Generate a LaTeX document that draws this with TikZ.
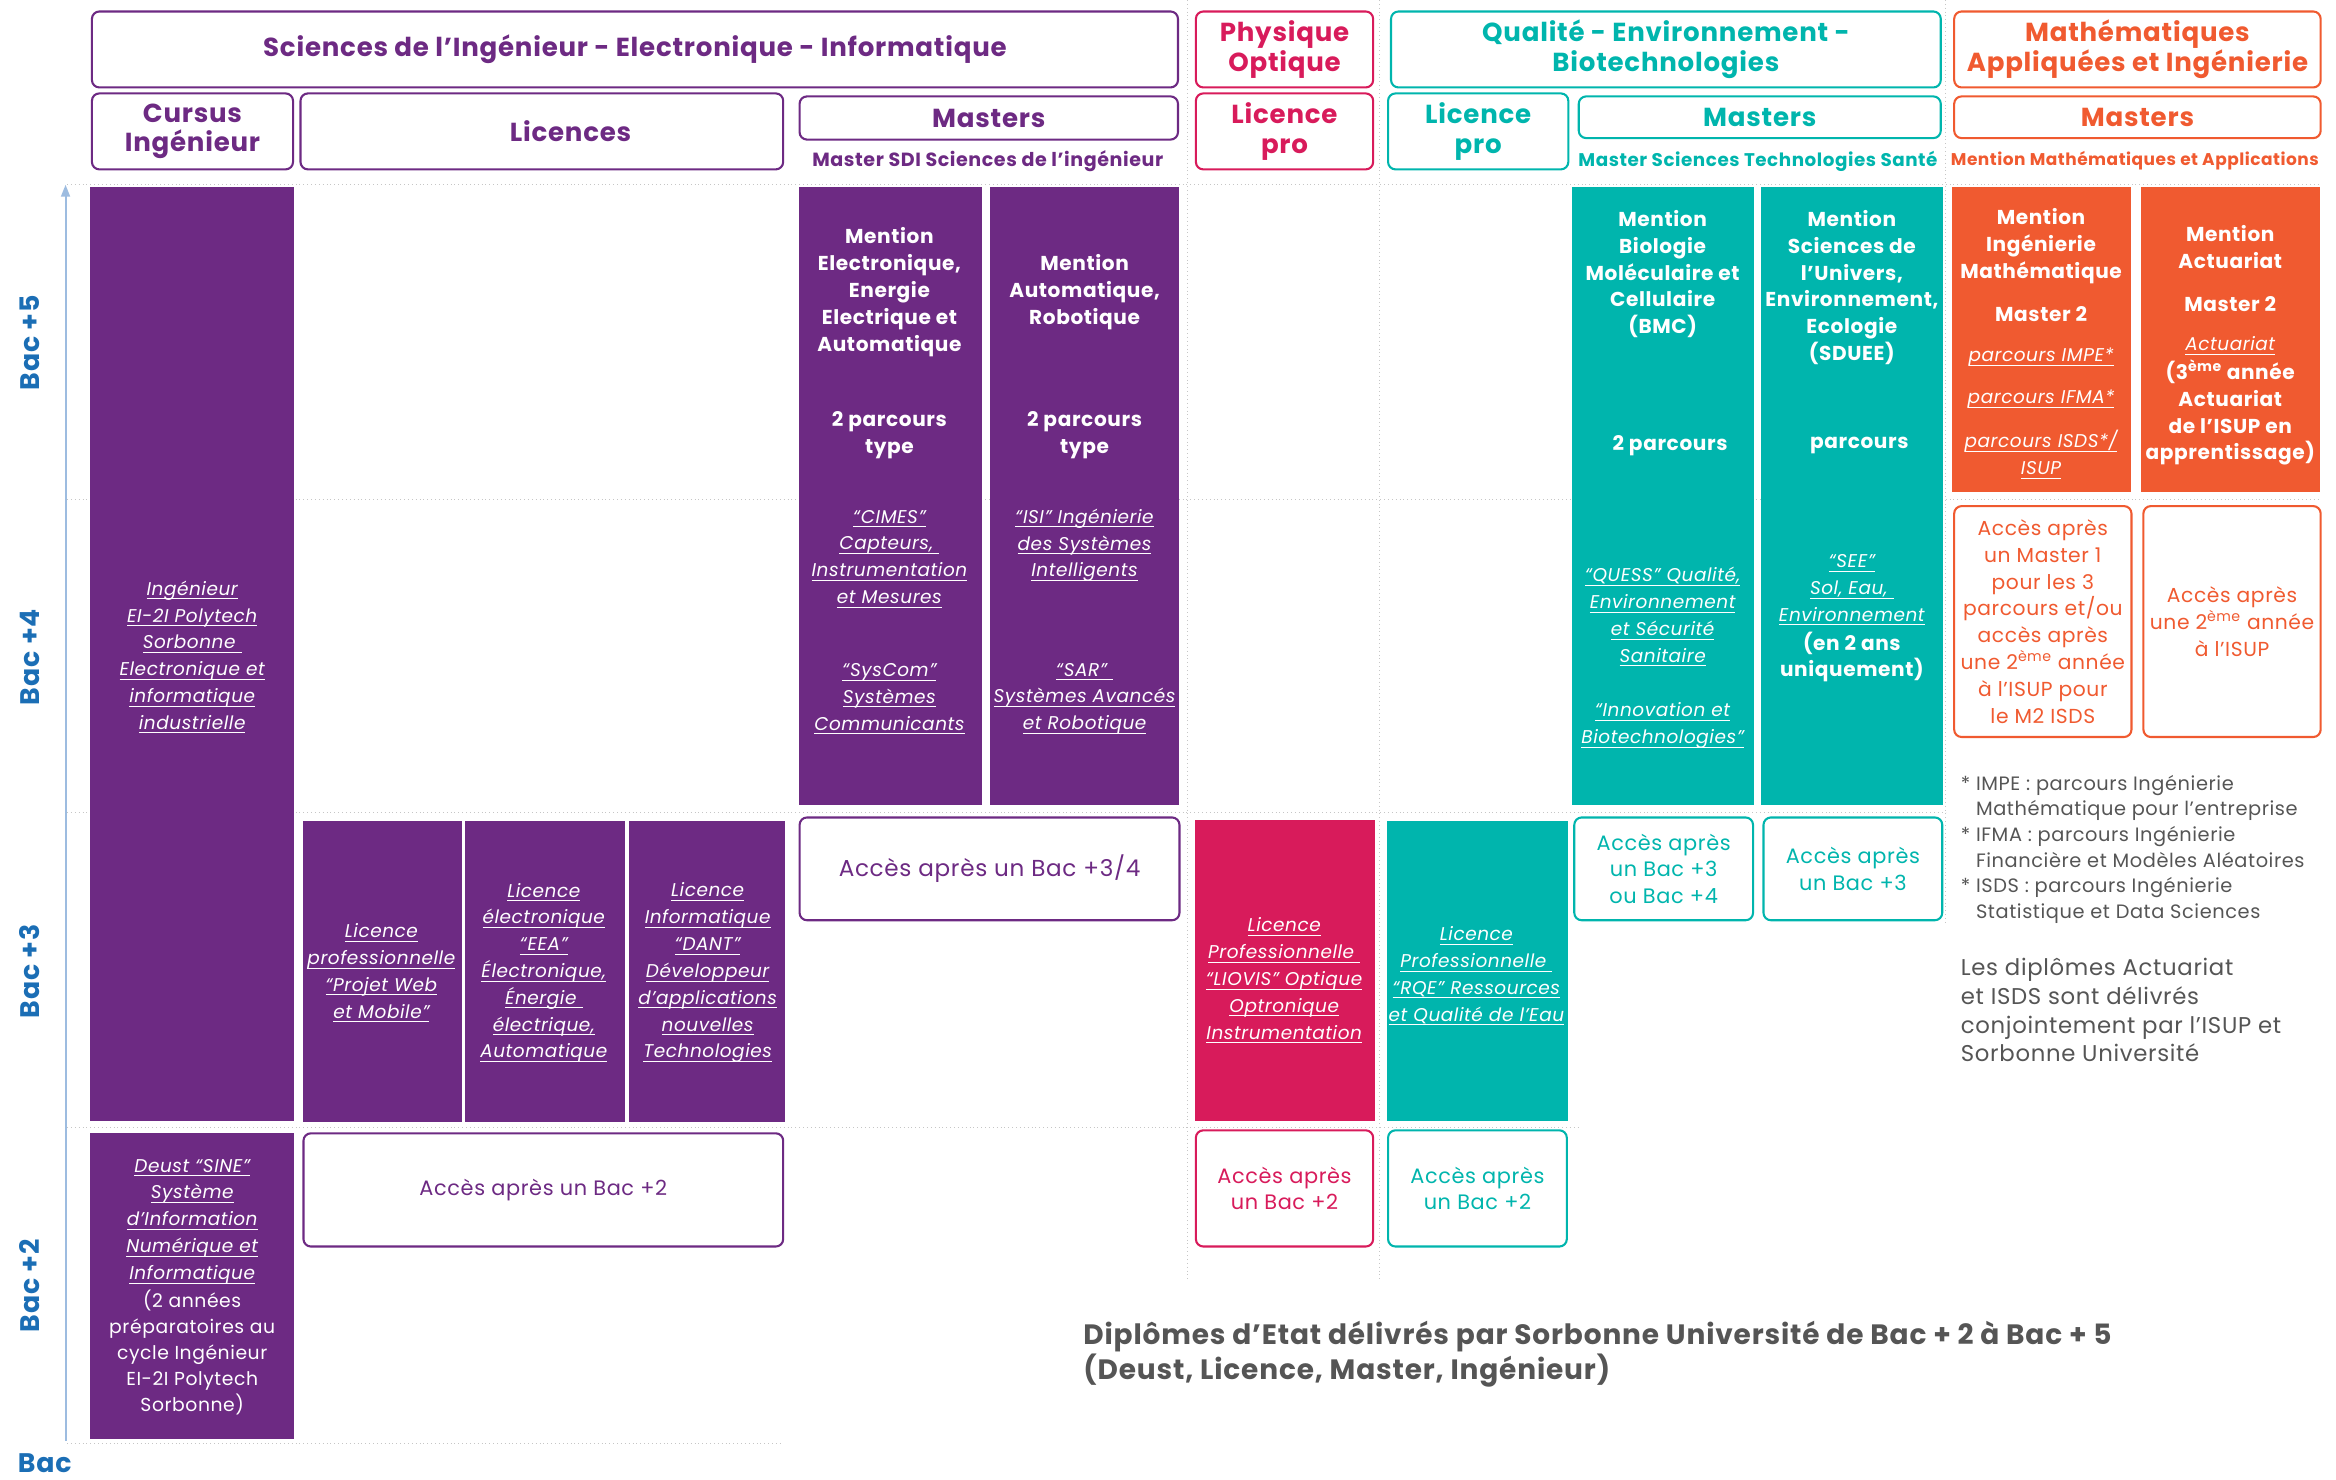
\documentclass[tikz,border=0pt]{standalone}
\usepackage{fontspec}
\setmainfont{Poppins}[LetterSpace=3]
\usetikzlibrary{arrows.meta}

\definecolor{purp}{HTML}{6D2A83}
\definecolor{crim}{HTML}{D81B5B}
\definecolor{tealc}{HTML}{00B5AD}
\definecolor{oran}{HTML}{F05A30}
\definecolor{bacblue}{HTML}{1B6EB5}
\definecolor{arrowblue}{HTML}{9DBCE0}
\definecolor{greytxt}{HTML}{555555}

\newcommand{\txtsize}[2]{\fontsize{#1}{#2}\selectfont}
\newsavebox{\ulbox}
\newcommand{\ulk}[1]{\sbox{\ulbox}{#1}\rlap{\rule[-2.6pt]{\wd\ulbox}{0.5pt}}\usebox{\ulbox}}

\begin{document}
\begin{tikzpicture}[x=1pt,y=-1pt,
    hbox/.style={draw=#1, text=#1, line width=1.4pt, rounded corners=5pt,
      anchor=north west, inner sep=0pt, align=center,
      font=\bfseries\txtsize{17.5}{20}},
    subhd/.style={text=#1, font=\bfseries\txtsize{12.3}{14}},
    blk/.style={fill=#1, anchor=north west, inner sep=0pt},
    accbox/.style={draw=#1, text=#1, fill=white, line width=1.4pt,
      rounded corners=5pt, anchor=north west, inner sep=0pt, align=center,
      font=\txtsize{14}{18}},
    wbold/.style={text=white, align=center, inner sep=0pt,
      font=\bfseries\txtsize{13.5}{18}},
    wital/.style={text=white, align=center, inner sep=0pt,
      font=\itshape\txtsize{12.4}{18}},
    bac/.style={text=bacblue, font=\bfseries\txtsize{18}{18}},
    grid/.style={gray!45, dotted, line width=0.6pt}]
\useasboundingbox (0,0) rectangle (1568,993);

% dotted grid
\draw[grid] (45,124) -- (1557,124);
\draw[grid] (45,335) -- (1557,335);
\draw[grid] (45,545) -- (1306,545);
\draw[grid] (45,757) -- (1060,757);
\draw[grid] (45,969) -- (525,969);
\draw[grid] (797,0) -- (797,860);
\draw[grid] (926,0) -- (926,860);
\draw[grid] (1306,0) -- (1306,620);

% level axis
\coordinate (axbot) at (44,967);
\coordinate (axtop) at (44,124);
\draw[arrowblue, line width=1.3pt, -{Triangle[length=8pt,width=6pt]}] (axbot) -- (axtop);
\node[bac, rotate=90] (b5) at (20,230) {Bac +5};
\node[bac, rotate=90] (b4) at (20,441) {Bac +4};
\node[bac, rotate=90] (b3) at (20,652) {Bac +3};
\node[bac, rotate=90] (b2) at (20,863) {Bac +2};
\node[bac] (b0) at (30,982) {Bac};

% headers
\node[hbox=purp, minimum width=729, minimum height=51] (hsdi) at (61,7)
  {Sciences de l’Ingénieur - Electronique - Informatique};
\node[hbox=crim, minimum width=119, minimum height=51] (hpo) at (802,7)
  {Physique\\Optique};
\node[hbox=tealc, minimum width=369, minimum height=51] (hqeb) at (933,7)
  {Qualité - Environnement -\\Biotechnologies};
\node[hbox=oran, minimum width=246, minimum height=51] (hmai) at (1311,7)
  {Mathématiques\\Appliquées et Ingénierie};

\node[hbox=purp, minimum width=135, minimum height=51] (hcur) at (61,62)
  {Cursus\\Ingénieur};
\node[hbox=purp, minimum width=324, minimum height=51] (hlic) at (201,62) {};
\node[text=purp, font=\bfseries\txtsize{17.5}{20}] (tlic) at (383,88) {Licences};
\node[hbox=purp, minimum width=254, minimum height=29] (hmsdi) at (536,64)
  {Masters};
\node[subhd=purp, font=\bfseries\txtsize{12.8}{14}] (ssdi) at (663,108) {Master SDI Sciences de l’ingénieur};
\node[hbox=crim, minimum width=119, minimum height=51] (hlpo) at (802,62)
  {Licence\\pro};
\node[hbox=tealc, minimum width=121, minimum height=51] (hlpq) at (931,62)
  {Licence\\pro};
\node[hbox=tealc, minimum width=243, minimum height=28] (hmsts) at (1059,64)
  {Masters};
\node[subhd=tealc] (ssts) at (1180,108) {Master Sciences Technologies Santé};
\node[hbox=oran, minimum width=246, minimum height=28] (hmma) at (1311,64)
  {Masters};
\node[subhd=oran, font=\bfseries\txtsize{11.4}{14}] (sma) at (1433,108) {Mention Mathématiques et Applications};

% Sciences de l'Ingenieur
\node[blk=purp, minimum width=137, minimum height=627] (ing) at (60,125) {};
\node[wital] (ting) at (129,441) {\ulk{Ingénieur}\\\ulk{EI-2I Polytech}\\\ulk{Sorbonne }\\\ulk{Electronique et}\\\ulk{informatique}\\\ulk{industrielle}};
\node[blk=purp, minimum width=137, minimum height=206] (deust) at (60,760) {};
\node[wital] (tdeust) at (129,820) {\ulk{Deust “SINE”}\\\ulk{Système}\\\ulk{d’Information}\\\ulk{Numérique et}\\\ulk{Informatique}};
\node[wital, font=\txtsize{12.6}{17.5}] (tprep) at (129,908) {(2 années\\préparatoires au\\cycle Ingénieur\\EI-2I Polytech\\Sorbonne)};

\node[blk=purp, minimum width=107, minimum height=202] (lpw) at (203,551) {};
\node[blk=purp, minimum width=107, minimum height=202] (leea) at (312,551) {};
\node[blk=purp, minimum width=105, minimum height=202] (ldant) at (422,551) {};
\node[wital] (tlpw) at (256,653) {\ulk{Licence}\\\ulk{professionnelle}\\\ulk{“Projet Web}\\\ulk{et Mobile”}};
\node[wital] (tleea) at (365,653) {\ulk{Licence}\\\ulk{électronique}\\\ulk{“EEA”}\\\ulk{Électronique,}\\\ulk{Énergie }\\\ulk{électrique,}\\\ulk{Automatique}};
\node[wital] (tldant) at (475,653) {\ulk{Licence}\\\ulk{Informatique}\\\ulk{“DANT”}\\\ulk{Développeur}\\\ulk{d’applications}\\\ulk{nouvelles}\\\ulk{Technologies}};
\node[accbox=purp, minimum width=322, minimum height=76] (acc2) at (203,760)
  {Accès après un Bac +2};

\node[blk=purp, minimum width=123, minimum height=415] (mee) at (536,125) {};
\node[blk=purp, minimum width=127, minimum height=415] (mar) at (664,125) {};
\node[wbold] (tmee) at (597,196) {Mention\\Electronique,\\Energie\\Electrique et\\Automatique};
\node[wbold] (pmee) at (597,292) {2 parcours\\type};
\node[wital] (cimes) at (597,375) {\ulk{“CIMES”}\\\ulk{Capteurs, }\\\ulk{Instrumentation}\\\ulk{et Mesures}};
\node[wital] (syscom) at (597,469) {\ulk{“SysCom”}\\\ulk{Systèmes}\\\ulk{Communicants}};
\node[wbold] (tmar) at (728,196) {Mention\\Automatique,\\Robotique};
\node[wbold] (pmar) at (728,292) {2 parcours\\type};
\node[wital] (isi) at (728,366) {\ulk{“ISI” Ingénierie}\\\ulk{des Systèmes}\\\ulk{Intelligents}};
\node[wital] (sar) at (728,469) {\ulk{“SAR” }\\\ulk{Systèmes Avancés}\\\ulk{et Robotique}};
\node[accbox=purp, minimum width=255, minimum height=69, font=\txtsize{15.5}{18}] (acc34) at (536,548)
  {Accès après un Bac +3/4};

% Physique Optique
\node[blk=crim, minimum width=121, minimum height=202] (liovis) at (802,550) {};
\node[wital] (tliovis) at (862,658) {\ulk{Licence}\\\ulk{Professionnelle }\\\ulk{“LIOVIS” Optique}\\\ulk{Optronique}\\\ulk{Instrumentation}};
\node[accbox=crim, minimum width=119, minimum height=78] (accpo) at (802,758)
  {Accès après\\un Bac +2};

% Qualite Environnement Biotechnologies
\node[blk=tealc, minimum width=121, minimum height=201] (rqe) at (931,551) {};
\node[wital] (trqe) at (991,655) {\ulk{Licence}\\\ulk{Professionnelle }\\\ulk{“RQE” Ressources}\\\ulk{et Qualité de l’Eau}};
\node[accbox=tealc, minimum width=120, minimum height=78] (accrqe) at (931,758)
  {Accès après\\un Bac +2};

\node[blk=tealc, minimum width=122, minimum height=415] (bmc) at (1055,125) {};
\node[blk=tealc, minimum width=122, minimum height=415] (sduee) at (1182,125) {};
\node[wbold] (tbmc) at (1116,184) {Mention\\Biologie\\Moléculaire et\\Cellulaire\\(BMC)};
\node[wbold] (pbmc) at (1121,299) {2 parcours};
\node[wital] (quess) at (1116,414) {\ulk{“QUESS” Qualité,}\\\ulk{Environnement}\\\ulk{et Sécurité}\\\ulk{Sanitaire}};
\node[wital] (innov) at (1116,487) {\ulk{“Innovation et}\\\ulk{Biotechnologies”}};
\node[wbold] (tsduee) at (1243,193) {Mention\\Sciences de\\l’Univers,\\Environnement,\\Ecologie\\(SDUEE)};
\node[wbold] (psduee) at (1248,299) {parcours};
\node[wital] (see) at (1243,396) {\ulk{“SEE”}\\\ulk{Sol, Eau, }\\\ulk{Environnement}};
\node[wbold] (see2) at (1243,441) {(en 2 ans\\uniquement)};
\node[accbox=tealc, minimum width=120, minimum height=69] (accbmc) at (1056,548)
  {Accès après\\un Bac +3\\ou Bac +4};
\node[accbox=tealc, minimum width=120, minimum height=69] (accsduee) at (1183,548)
  {Accès après\\un Bac +3};

% Mathematiques Appliquees
\node[blk=oran, minimum width=120, minimum height=205] (mim) at (1310,125) {};
\node[blk=oran, minimum width=120, minimum height=205] (mact) at (1437,125) {};
\node[wbold] (tmim) at (1370,165) {Mention\\Ingénierie\\Mathématique};
\node[wbold] (m2im) at (1370,211) {Master 2};
\node[wital] (impe) at (1370,240) {\ulk{parcours IMPE*}};
\node[wital] (ifma) at (1370,268) {\ulk{parcours IFMA*}};
\node[wital] (isds) at (1370,305) {\ulk{parcours ISDS*/}\\\ulk{ISUP}};
\node[wbold] (tmact) at (1497,166) {Mention\\Actuariat};
\node[wbold] (m2act) at (1497,204) {Master 2};
\node[wital] (actu) at (1497,232) {\ulk{Actuariat}};
\node[wbold] (isup) at (1497,277) {(3\textsuperscript{ème} année\\Actuariat\\de l’ISUP en\\apprentissage)};
\node[accbox=oran, minimum width=119, minimum height=155, font=\txtsize{13.6}{18}] (accmim) at (1311,339)
  {Accès après\\un Master 1\\pour les 3\\parcours et/ou\\accès après\\une 2\textsuperscript{ème} année\\à l’ISUP pour\\le M2 ISDS};
\node[accbox=oran, minimum width=119, minimum height=155, font=\txtsize{13.6}{18}] (accact) at (1438,339)
  {Accès après\\une 2\textsuperscript{ème} année\\à l’ISUP};

% notes
\node[text=greytxt, anchor=west, align=left, inner sep=0pt, font=\txtsize{13}{17.2}] (notes) at (1316,570)
  {* IMPE : parcours Ingénierie\\\hphantom{* }Mathématique pour l’entreprise\\* IFMA : parcours Ingénierie\\\hphantom{* }Financière et Modèles Aléatoires\\* ISDS : parcours Ingénierie\\\hphantom{* }Statistique et Data Sciences};
\node[text=greytxt, anchor=west, align=left, inner sep=0pt, font=\txtsize{15.3}{19.3}] (joint) at (1316,678)
  {Les diplômes Actuariat\\et ISDS sont délivrés\\conjointement par l’ISUP et\\Sorbonne Université};
\node[text=greytxt, anchor=west, align=left, inner sep=0pt, font=\bfseries\txtsize{18.8}{24}] (title) at (727,909)
  {Diplômes d’Etat délivrés par Sorbonne Université de Bac + 2 à Bac + 5\\(Deust, Licence, Master, Ingénieur)};
\end{tikzpicture}
\end{document}
